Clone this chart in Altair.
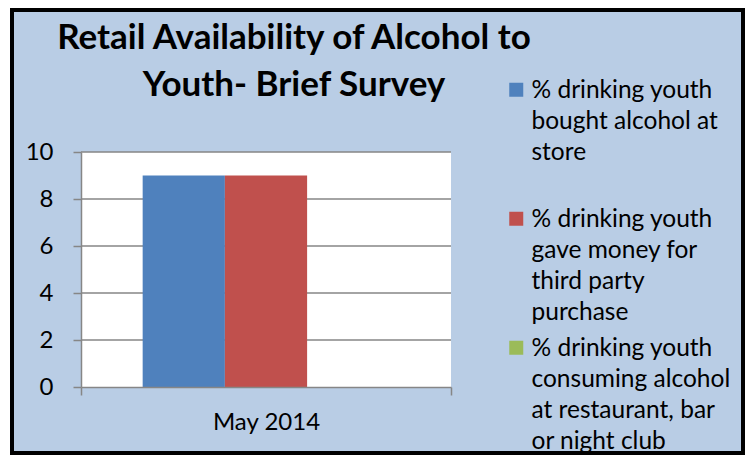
import json
import altair as alt
import pandas as pd

# ---- data ----
category = ["May 2014"]
series = [
    "% drinking youth bought alcohol at store",
    "% drinking youth gave money for third party purchase",
    "% drinking youth consuming alcohol at restaurant, bar or night club",
]
legend_lines = [
    ["% drinking youth", "bought alcohol at", "store"],
    ["% drinking youth", "gave money for", "third party", "purchase"],
    ["% drinking youth", "consuming alcohol", "at restaurant, bar", "or night club"],
]
values = [9, 9, 0]
colors = ["#4F81BD", "#C0504D", "#9BBB59"]
y_ticks = [0, 2, 4, 6, 8, 10]
title_lines = ["Retail Availability of Alcohol to", "Youth- Brief Survey"]

FONT = "Lato"
GRAY = "#868686"

bars_df = pd.DataFrame({"cat": category * len(series), "series": series, "value": values})
bg_df = pd.DataFrame({"cat": category, "lo": [y_ticks[0]], "hi": [y_ticks[-1]]})
grid_df = pd.DataFrame({"cat": category * (len(y_ticks) - 1), "v": y_ticks[1:]})

label_expr = " : ".join(
    f"datum.label === {json.dumps(n)} ? {json.dumps(l)}" for n, l in zip(series, legend_lines)
) + " : datum.label"

x_scale = alt.Scale(domain=category, range=[69, 439], paddingInner=0, paddingOuter=0)
y_scale = alt.Scale(domain=[y_ticks[0], y_ticks[-1]], range=[377, 142], nice=False, zero=True)

x_axis = alt.Axis(
    title=None, tickBand="extent", offset=-66, tickSize=8, labelAngle=0,
    labelFont=FONT, labelFontSize=24, labelColor="black", labelPadding=15,
    domainColor=GRAY, tickColor=GRAY, domainWidth=1.5, tickWidth=1.5, zindex=1,
)
y_axis = alt.Axis(
    title=None, values=y_ticks, grid=False, offset=-69, tickSize=8,
    labelFont=FONT, labelFontSize=24, labelColor="black", labelPadding=20,
    domainColor=GRAY, tickColor=GRAY, domainWidth=1.5, tickWidth=1.5, zindex=1,
)

X = alt.X("cat:N", scale=x_scale, axis=x_axis, title=None)

bg = alt.Chart(bg_df).mark_rect(fill="white").encode(
    x=X,
    y=alt.Y("lo:Q", scale=y_scale, axis=y_axis, title=None),
    y2="hi:Q",
)

grid = alt.Chart(grid_df).mark_rect(fillOpacity=0, stroke=GRAY, strokeWidth=1.5).encode(
    x=X,
    y=alt.Y("v:Q", scale=y_scale, axis=y_axis, title=None),
    y2="v:Q",
)

bars = alt.Chart(bars_df).mark_bar().encode(
    x=X,
    xOffset=alt.XOffset("series:N", scale=alt.Scale(domain=series, paddingInner=0, paddingOuter=0.75)),
    y=alt.Y("value:Q", scale=y_scale, axis=y_axis, title=None),
    color=alt.Color(
        "series:N",
        scale=alt.Scale(domain=series, range=colors),
        legend=alt.Legend(
            orient="none", legendX=492, legendY=57, title=None, padding=0,
            symbolType="M-1,0.5H1V2.5H-1Z", symbolSize=196, symbolStrokeWidth=0,
            labelFont=FONT, labelFontSize=24.5, labelColor="black", labelBaseline="top",
            labelLimit=400, labelOffset=3, rowPadding=0, gridAlign="all",
            labelExpr=label_expr,
        ),
    ),
)

chart = alt.layer(bg, grid, bars).properties(
    width=731,
    height=443,
    autosize=alt.AutoSizeParams(type="none"),
    padding={"left": 4, "top": 2, "right": 2, "bottom": 2},
    title=alt.TitleParams(
        text=title_lines, font=FONT, fontSize=35, fontWeight="bold", color="black",
        anchor="middle", dx=-83.5, dy=97, lineHeight=46.7,
    ),
).configure(
    background="white",
    style={"guide-label": {"lineHeight": 31}},
    view=alt.ViewConfig(fill="#B9CDE5", stroke="black", strokeWidth=4),
)

chart.save("out.html", embed_options={"renderer": "svg", "actions": False})
